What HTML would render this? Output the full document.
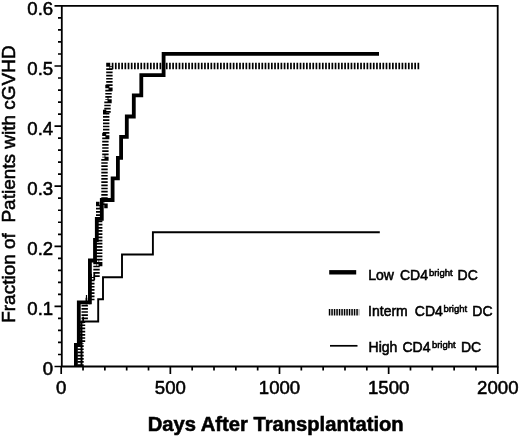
<!DOCTYPE html>
<html><head><meta charset="utf-8"><style>
html,body{margin:0;padding:0;background:#fff;}
svg{display:block;filter:grayscale(1) blur(0.3px);}
text{font-family:"Liberation Sans",sans-serif;fill:#000;stroke:#000;stroke-width:0.55px;white-space:pre;}
.t18{font-size:18.6px;}
.tb{font-size:20px;font-weight:bold;}
.t14{font-size:14px;}
.tsup{font-size:9.5px;}
</style></head><body>
<svg width="520" height="438" viewBox="0 0 520 438">
<rect width="520" height="438" fill="#fff"/>
<path d="M61.8 366.5 V5.8 H497.7 V366.5 Z" fill="none" stroke="#000" stroke-width="1.8"/>
<path d="M61.8 366.50 H54.5 M61.8 354.48 H58 M61.8 342.46 H58 M61.8 330.44 H58 M61.8 318.42 H58 M61.8 306.40 H54.5 M61.8 294.38 H58 M61.8 282.36 H58 M61.8 270.34 H58 M61.8 258.32 H58 M61.8 246.30 H54.5 M61.8 234.28 H58 M61.8 222.26 H58 M61.8 210.24 H58 M61.8 198.22 H58 M61.8 186.20 H54.5 M61.8 174.18 H58 M61.8 162.16 H58 M61.8 150.14 H58 M61.8 138.12 H58 M61.8 126.10 H54.5 M61.8 114.08 H58 M61.8 102.06 H58 M61.8 90.04 H58 M61.8 78.02 H58 M61.8 66.00 H54.5 M61.8 53.98 H58 M61.8 41.96 H58 M61.8 29.94 H58 M61.8 17.92 H58 M61.8 5.90 H54.5 M61.20 366.5 V374 M83.03 366.5 V370.6 M104.86 366.5 V370.6 M126.69 366.5 V370.6 M148.52 366.5 V370.6 M170.35 366.5 V374 M192.18 366.5 V370.6 M214.01 366.5 V370.6 M235.84 366.5 V370.6 M257.67 366.5 V370.6 M279.50 366.5 V374 M301.33 366.5 V370.6 M323.16 366.5 V370.6 M344.99 366.5 V370.6 M366.82 366.5 V370.6 M388.65 366.5 V374 M410.48 366.5 V370.6 M432.31 366.5 V370.6 M454.14 366.5 V370.6 M475.97 366.5 V370.6 M497.80 366.5 V374" fill="none" stroke="#000" stroke-width="1.7"/>
<text x="53.2" y="14.60" text-anchor="end" class="t18">0.6</text>
<text x="53.2" y="74.70" text-anchor="end" class="t18">0.5</text>
<text x="53.2" y="134.80" text-anchor="end" class="t18">0.4</text>
<text x="53.2" y="194.90" text-anchor="end" class="t18">0.3</text>
<text x="53.2" y="255.00" text-anchor="end" class="t18">0.2</text>
<text x="53.2" y="315.10" text-anchor="end" class="t18">0.1</text>
<text x="53.2" y="375.20" text-anchor="end" class="t18">0</text>
<text x="61.20" y="393.9" text-anchor="middle" class="t18">0</text>
<text x="170.35" y="393.9" text-anchor="middle" class="t18">500</text>
<text x="279.50" y="393.9" text-anchor="middle" class="t18">1000</text>
<text x="388.65" y="393.9" text-anchor="middle" class="t18">1500</text>
<text x="497.80" y="393.9" text-anchor="middle" class="t18">2000</text>
<text transform="translate(15.2 322.8) rotate(-90)" class="t18" textLength="277.5" lengthAdjust="spacingAndGlyphs">Fraction of  Patients with cGVHD</text>
<text x="147.7" y="431.3" class="tb" textLength="256" lengthAdjust="spacingAndGlyphs">Days After Transplantation</text>
<path d="M419.2 66 H109.4 V88 H108.5 V100 H107.5 V113 H106.2 V136 H105.4 V157.5 H104.5 V205 H99.2 V263 H96.5 V277 H91.3 V301 H84.7 V320 H82 V343 H80.5 V366.5" fill="none" stroke="#000" stroke-width="6.4" stroke-dasharray="1.7 1.485"/>
<path d="M379.8 232.2 H152.9 V254.5 H122 V277.3 H103 V299.3 H98.2 V321.5 H81.5 V366.5" fill="none" stroke="#000" stroke-width="1.9"/>
<path d="M379 53.8 H163.6 V75.1 H141.3 V95.3 H133.8 V116.5 H126.8 V136.8 H121.1 V157.8 H117.9 V178.4 H112.6 V200 H101.8 V218.8 H96.8 V240 H95 V260.5 H89.9 V302.3 H78.8 V345 H75.9 V366.5" fill="none" stroke="#000" stroke-width="3.8"/>
<path d="M86.5 295 V301" stroke="#000" stroke-width="1.2"/>
<path d="M329.2 272.3 H356.2" stroke="#000" stroke-width="4.4"/>
<path d="M328.8 312.3 H359.2" stroke="#000" stroke-width="6.4" stroke-dasharray="1.5 1.0"/>
<path d="M330 345.8 H357.5" stroke="#000" stroke-width="1.7"/>
<text x="368.3" y="279.9" class="t14">Low</text><text x="400.0" y="279.9" class="t14">CD4</text><text x="428.9" y="275.6" class="tsup">bright</text><text x="457.6" y="279.9" class="t14">DC</text>
<text x="368.1" y="316.2" class="t14">Interm</text><text x="414.8" y="316.2" class="t14">CD4</text><text x="443.4" y="312.1" class="tsup">bright</text><text x="472.3" y="316.2" class="t14">DC</text>
<text x="368.6" y="352.2" class="t14">High</text><text x="402.5" y="352.2" class="t14">CD4</text><text x="431.9" y="348.1" class="tsup">bright</text><text x="461.0" y="352.2" class="t14">DC</text>
</svg>
</body></html>
